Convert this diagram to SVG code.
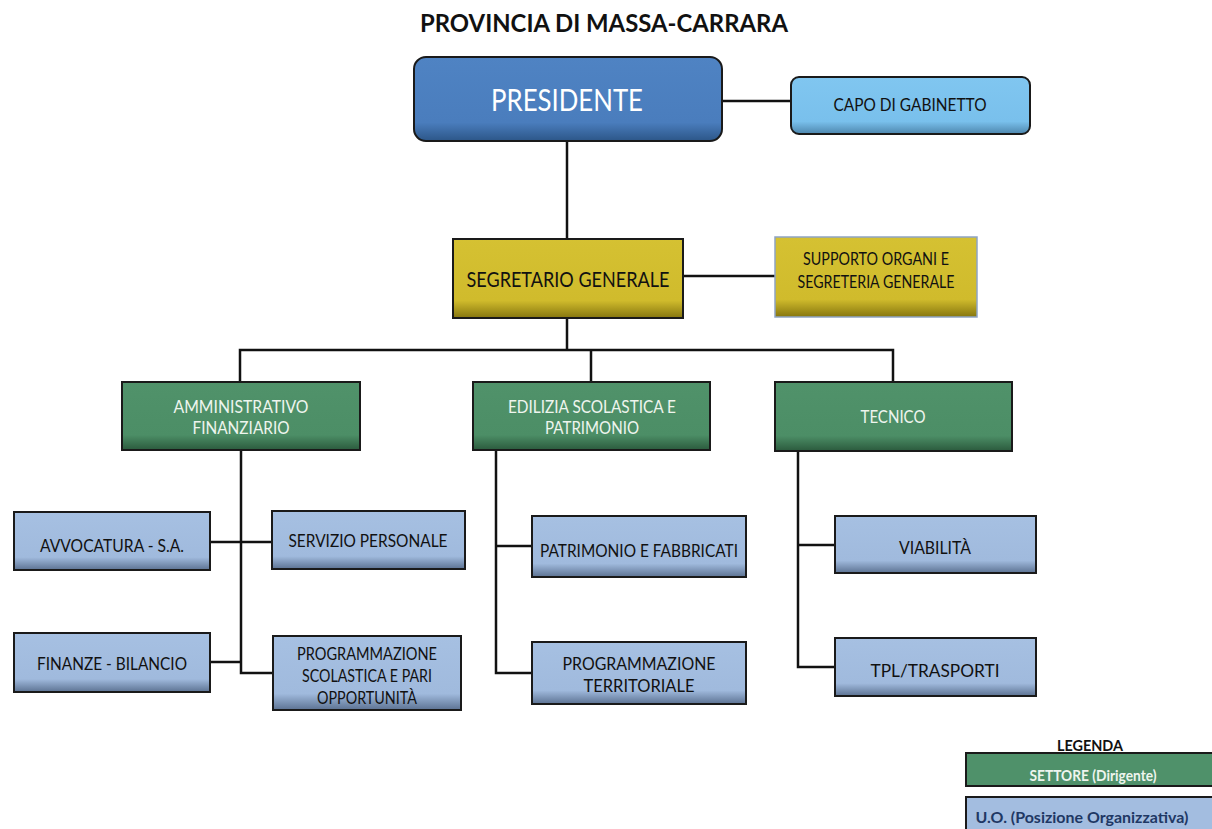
<svg xmlns="http://www.w3.org/2000/svg" width="1212" height="829" viewBox="0 0 1212 829">
<style>
text{font-family:Lato,"Liberation Sans",sans-serif;text-anchor:middle;}
.t{font-size:17.5px;fill:#111;}
.w{font-size:17.5px;fill:#eef5ee;}
.b{stroke:#1a1a1a;stroke-width:2;}
.conn{fill:none;stroke:#111;stroke-width:2.5;}
</style>
<defs>
<linearGradient id="gPres" x1="0" y1="0" x2="0" y2="1"><stop offset="0" stop-color="#4f83c3"/><stop offset="0.78" stop-color="#4a7dbd"/><stop offset="1" stop-color="#2c5688"/></linearGradient>
<linearGradient id="gCapo" x1="0" y1="0" x2="0" y2="1"><stop offset="0" stop-color="#80c6f0"/><stop offset="0.78" stop-color="#79c0ec"/><stop offset="1" stop-color="#4d86ad"/></linearGradient>
<linearGradient id="gGold" x1="0" y1="0" x2="0" y2="1"><stop offset="0" stop-color="#d5c132"/><stop offset="0.78" stop-color="#d0bb2c"/><stop offset="1" stop-color="#86760f"/></linearGradient>
<linearGradient id="gGreen" x1="0" y1="0" x2="0" y2="1"><stop offset="0" stop-color="#50926a"/><stop offset="0.78" stop-color="#4c8e66"/><stop offset="1" stop-color="#2b5a3d"/></linearGradient>
<linearGradient id="gBlue" x1="0" y1="0" x2="0" y2="1"><stop offset="0" stop-color="#a6c0e2"/><stop offset="0.78" stop-color="#a0badd"/><stop offset="1" stop-color="#5c7292"/></linearGradient>
</defs>
<rect width="1212" height="829" fill="#fff"/>
<text x="604" y="32" style="font-size:25px;font-weight:bold;fill:#111" textLength="368" lengthAdjust="spacingAndGlyphs">PROVINCIA DI MASSA-CARRARA</text>

<g id="connectors">
<path class="conn" d="M722 101H791"/>
<path class="conn" d="M567 141V239"/>
<path class="conn" d="M683 276H775"/>
<path class="conn" d="M567 318V350M240 383V350H893V383M591 350V383"/>
<path class="conn" d="M241 450V673H274M210 542H273M210 662H241"/>
<path class="conn" d="M496 450V673H532M496 546H532"/>
<path class="conn" d="M798 451V667H835M798 545H835"/>
</g>

<g id="presidente"><rect class="b" x="414" y="57" width="308" height="84" rx="12" fill="url(#gPres)"/><text x="567" y="111" style="font-size:31px;fill:#fff" textLength="152" lengthAdjust="spacingAndGlyphs">PRESIDENTE</text></g>
<g id="capo"><rect class="b" x="791" y="77" width="239" height="57" rx="8" fill="url(#gCapo)"/><text class="t" x="910" y="111" textLength="153" lengthAdjust="spacingAndGlyphs">CAPO DI GABINETTO</text></g>
<g id="segretario"><rect class="b" x="453" y="239" width="230" height="79" fill="url(#gGold)"/><text x="568" y="287" style="font-size:21px;fill:#111" textLength="203" lengthAdjust="spacingAndGlyphs">SEGRETARIO GENERALE</text></g>
<g id="supporto"><rect x="775" y="237" width="202" height="80" fill="url(#gGold)" stroke="#8ea4c4" stroke-width="1.5"/><text class="t" x="876" y="265" style="font-size:16.5px" textLength="146" lengthAdjust="spacingAndGlyphs">SUPPORTO ORGANI E</text><text class="t" x="876" y="288" style="font-size:16.5px" textLength="157" lengthAdjust="spacingAndGlyphs">SEGRETERIA GENERALE</text></g>

<g id="amministrativo"><rect class="b" x="122" y="382" width="238" height="68" fill="url(#gGreen)"/><text class="w" x="241" y="413" textLength="135" lengthAdjust="spacingAndGlyphs">AMMINISTRATIVO</text><text class="w" x="241" y="434" textLength="97" lengthAdjust="spacingAndGlyphs">FINANZIARIO</text></g>
<g id="edilizia"><rect class="b" x="473" y="382" width="237" height="68" fill="url(#gGreen)"/><text class="w" x="592" y="413" textLength="168" lengthAdjust="spacingAndGlyphs">EDILIZIA SCOLASTICA E</text><text class="w" x="592" y="434" textLength="94" lengthAdjust="spacingAndGlyphs">PATRIMONIO</text></g>
<g id="tecnico"><rect class="b" x="775" y="382" width="237" height="69" fill="url(#gGreen)"/><text class="w" x="893" y="423" textLength="65" lengthAdjust="spacingAndGlyphs">TECNICO</text></g>

<g id="avvocatura"><rect class="b" x="14" y="512" width="196" height="58" fill="url(#gBlue)"/><text class="t" x="112" y="552" textLength="144" lengthAdjust="spacingAndGlyphs">AVVOCATURA - S.A.</text></g>
<g id="servizio-personale"><rect class="b" x="272" y="511" width="193" height="58" fill="url(#gBlue)"/><text class="t" x="368" y="547" textLength="159" lengthAdjust="spacingAndGlyphs">SERVIZIO PERSONALE</text></g>
<g id="finanze"><rect class="b" x="14" y="633" width="196" height="59" fill="url(#gBlue)"/><text class="t" x="112" y="670" textLength="150" lengthAdjust="spacingAndGlyphs">FINANZE - BILANCIO</text></g>
<g id="programmazione-scolastica"><rect class="b" x="273" y="636" width="188" height="74" fill="url(#gBlue)"/><text class="t" x="367" y="660" textLength="140" lengthAdjust="spacingAndGlyphs">PROGRAMMAZIONE</text><text class="t" x="367" y="682" textLength="130" lengthAdjust="spacingAndGlyphs">SCOLASTICA E PARI</text><text class="t" x="367" y="704" textLength="100" lengthAdjust="spacingAndGlyphs">OPPORTUNITÀ</text></g>

<g id="patrimonio"><rect class="b" x="532" y="516" width="214" height="61" fill="url(#gBlue)"/><text class="t" x="639" y="557" textLength="198" lengthAdjust="spacingAndGlyphs">PATRIMONIO E FABBRICATI</text></g>
<g id="programmazione-territoriale"><rect class="b" x="532" y="642" width="214" height="62" fill="url(#gBlue)"/><text class="t" x="639" y="670" textLength="153" lengthAdjust="spacingAndGlyphs">PROGRAMMAZIONE</text><text class="t" x="639" y="692" textLength="111" lengthAdjust="spacingAndGlyphs">TERRITORIALE</text></g>

<g id="viabilita"><rect class="b" x="835" y="516" width="201" height="57" fill="url(#gBlue)"/><text class="t" x="935" y="554" textLength="72" lengthAdjust="spacingAndGlyphs">VIABILITÀ</text></g>
<g id="tpl"><rect class="b" x="835" y="638" width="201" height="58" fill="url(#gBlue)"/><text class="t" x="935" y="677" textLength="129" lengthAdjust="spacingAndGlyphs">TPL/TRASPORTI</text></g>

<g id="legenda">
<text x="1090" y="751" style="font-size:16px;font-weight:bold;fill:#111" textLength="66" lengthAdjust="spacingAndGlyphs">LEGENDA</text>
<rect class="b" x="966" y="753" width="250" height="33" fill="#4f916a"/>
<text x="1093" y="781" style="font-size:16px;font-weight:bold;fill:#eef5ee" textLength="127" lengthAdjust="spacingAndGlyphs">SETTORE (Dirigente)</text>
<rect class="b" x="966" y="797" width="250" height="36" fill="#a3bde0"/>
<text x="1082" y="823" style="font-size:16px;font-weight:bold;fill:#1f3864" textLength="213" lengthAdjust="spacingAndGlyphs">U.O. (Posizione Organizzativa)</text>
</g>
</svg>
